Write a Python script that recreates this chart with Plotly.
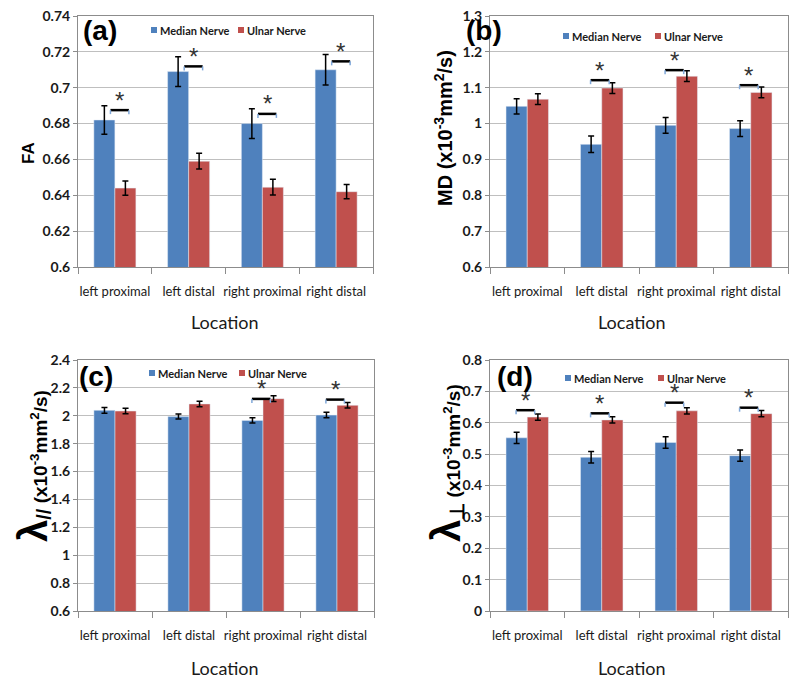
import plotly.graph_objects as go

categories = ["left proximal", "left distal", "right proximal", "right distal"]
series_names = ["Median Nerve", "Ulnar Nerve"]

# (a) FA
fa_median = [0.682, 0.709, 0.680, 0.710]
fa_median_err = [0.008, 0.0083, 0.0083, 0.0085]
fa_ulnar = [0.644, 0.659, 0.6445, 0.642]
fa_ulnar_err = [0.004, 0.0044, 0.0044, 0.004]
fa_sig_y = [0.6875, 0.7119, 0.6854, 0.7147]

# (b) MD
md_median = [1.048, 0.942, 0.995, 0.986]
md_median_err = [0.021, 0.023, 0.022, 0.022]
md_ulnar = [1.068, 1.099, 1.132, 1.087]
md_ulnar_err = [0.015, 0.015, 0.015, 0.015]
md_sig_y = [None, 1.121, 1.149, 1.107]

# (c) lambda parallel
lp_median = [2.039, 1.994, 1.967, 2.005]
lp_median_err = [0.02, 0.018, 0.018, 0.02]
lp_ulnar = [2.034, 2.085, 2.123, 2.075]
lp_ulnar_err = [0.02, 0.02, 0.02, 0.02]
lp_sig_y = [None, None, 2.121, 2.116]

# (d) lambda perpendicular
lt_median = [0.552, 0.490, 0.537, 0.495]
lt_median_err = [0.018, 0.018, 0.018, 0.018]
lt_ulnar = [0.618, 0.609, 0.638, 0.629]
lt_ulnar_err = [0.01, 0.01, 0.01, 0.01]
lt_sig_y = [0.640, 0.630, 0.664, 0.648]

y_ranges = [[0.6, 0.74], [0.6, 1.3], [0.6, 2.4], [0, 0.8]]
y_dticks = [0.02, 0.1, 0.2, 0.1]

BLUE = "#4F81BD"
RED = "#C0504D"
FONT = "Lato, sans-serif"
BOLDFONT = "Liberation Sans, Arial, sans-serif"

panels = [
    dict(med=fa_median, mede=fa_median_err, uln=fa_ulnar, ulne=fa_ulnar_err, sig=fa_sig_y,
         letter="(a)", dom_x=[78, 373], dom_y=[16, 267], br=(-0.06, 0.19)),
    dict(med=md_median, mede=md_median_err, uln=md_ulnar, ulne=md_ulnar_err, sig=md_sig_y,
         letter="(b)", dom_x=[490, 788], dom_y=[16, 267], br=(-0.15, 0.1)),
    dict(med=lp_median, mede=lp_median_err, uln=lp_ulnar, ulne=lp_ulnar_err, sig=lp_sig_y,
         letter="(c)", dom_x=[78, 374], dom_y=[360, 611], br=(-0.15, 0.1)),
    dict(med=lt_median, mede=lt_median_err, uln=lt_ulnar, ulne=lt_ulnar_err, sig=lt_sig_y,
         letter="(d)", dom_x=[490, 788], dom_y=[360, 611], br=(-0.15, 0.1)),
]

# page body has an 8px default margin: the figure is sized to fill the rest of the window
OFF = 8
W, H = 800 - OFF, 686 - OFF
xs = list(range(len(categories)))

fig = go.Figure()
layout = dict(width=W, height=H, margin=dict(l=0, r=0, t=0, b=0),
              paper_bgcolor="white", plot_bgcolor="white", showlegend=False,
              barmode="group", bargap=0.43, bargroupgap=0,
              font=dict(family=FONT, color="#1a1a1a"))
shapes = []
annotations = []

# legend swatch centres (window px): (blue x, red x, y)
legend_px = [(154, 241, 30), (566, 658, 36), (152, 242, 373), (568, 661, 378)]
letter_pos = [(100, 30), (484, 31), (96, 376), (515, 377)]
location_pos = [(225, 322), (632, 322), (225, 668), (632, 668)]
LAM = "<span style='font-size:40px'>λ</span>"
ytitle = [
    ("<b>FA</b>", 29, 153, 17),
    ("<b>MD (x10<sup>-3</sup>mm<sup>2</sup>/s)</b>", 443, 128, 20),
    ("<b>" + LAM + "<sub><span style='font-size:20px'>//</span></sub> (x10<sup>-3</sup>mm<sup>2</sup>/s)</b>", 33, 466, 19),
    ("<b>" + LAM + "<sub><span style='font-size:20px'>⊥</span></sub> (x10<sup>-3</sup>mm<sup>2</sup>/s)</b>", 446, 463, 19),
]


def px(x):
    return (x - OFF) / W


def py(y):
    return 1 - (y - OFF) / H


for i, p in enumerate(panels):
    k = "" if i == 0 else str(i + 1)
    xa, ya = "x" + k, "y" + k
    fig.add_trace(go.Bar(x=xs, y=p["med"], name=series_names[0], marker_color=BLUE,
                         error_y=dict(type="data", array=p["mede"], color="black", thickness=1.5, width=3),
                         xaxis=xa, yaxis=ya))
    fig.add_trace(go.Bar(x=xs, y=p["uln"], name=series_names[1], marker_color=RED,
                         error_y=dict(type="data", array=p["ulne"], color="black", thickness=1.5, width=3),
                         xaxis=xa, yaxis=ya))
    dx = [px(p["dom_x"][0]), px(p["dom_x"][1])]
    dy = [py(p["dom_y"][1]), py(p["dom_y"][0])]
    layout["xaxis" + k] = dict(domain=dx, anchor=ya, range=[-0.5, 3.5], automargin=False,
                               tickvals=xs, ticktext=categories, ticks="", tickangle=0,
                               ticklabelstandoff=12, ticklabeloverflow="allow",
                               tickfont=dict(size=13, color="#1a1a1a"),
                               showline=True, linecolor="#8C8C8C", linewidth=1, mirror=True,
                               showgrid=False, zeroline=False,
                               minor=dict(tickvals=[-0.5, 0.5, 1.5, 2.5, 3.5], ticks="outside",
                                          ticklen=6, tickcolor="#8C8C8C", showgrid=False))
    layout["yaxis" + k] = dict(domain=dy, anchor=xa, range=y_ranges[i], dtick=y_dticks[i],
                               automargin=False, ticklabeloverflow="allow",
                               tickfont=dict(size=14, color="#1a1a1a", weight="bold"),
                               ticks="outside", ticklen=4, tickcolor="#8C8C8C",
                               showline=True, linecolor="#8C8C8C", linewidth=1, mirror=True,
                               showgrid=True, gridcolor="#BFBFBF", gridwidth=1, zeroline=False)
    # legend (swatch + label) for this panel
    bx, rx, ly = legend_px[i]
    for sx, col, name in ((bx, BLUE, series_names[0]), (rx, RED, series_names[1])):
        shapes.append(dict(type="rect", xref="paper", yref="paper",
                           x0=px(sx - 3), x1=px(sx + 3), y0=py(ly + 3), y1=py(ly - 3),
                           fillcolor=col, line=dict(width=0)))
        annotations.append(dict(text=name, xref="paper", yref="paper", x=px(sx + 4), y=py(ly),
                                xanchor="left", yanchor="middle", showarrow=False,
                                font=dict(size=11, color="#1a1a1a", weight="bold")))
    # panel letter
    annotations.append(dict(text="<b>" + p["letter"] + "</b>", xref="paper", yref="paper",
                            x=px(letter_pos[i][0]), y=py(letter_pos[i][1]),
                            xanchor="center", yanchor="middle", showarrow=False,
                            font=dict(size=28, family=BOLDFONT, color="black")))
    # x title
    annotations.append(dict(text="Location", xref="paper", yref="paper",
                            x=px(location_pos[i][0]), y=py(location_pos[i][1]),
                            xanchor="center", yanchor="middle", showarrow=False,
                            font=dict(size=18, color="#1a1a1a")))
    # y title
    t, tx, ty, ts = ytitle[i]
    annotations.append(dict(text=t, xref="paper", yref="paper", x=px(tx), y=py(ty),
                            xanchor="center", yanchor="middle", showarrow=False, textangle=-90,
                            font=dict(size=ts, family=BOLDFONT, color="black")))
    # significance brackets
    x0o, x1o = p["br"]
    for c, yb in zip(xs, p["sig"]):
        if yb is None:
            continue
        shapes.append(dict(type="line", xref=xa, yref=ya, x0=c + x0o, x1=c + x1o, y0=yb, y1=yb,
                           line=dict(color="black", width=2.5)))
        for xe in (c + x0o, c + x1o):
            shapes.append(dict(type="line", xref=xa, yref=ya, ysizemode="pixel", yanchor=yb,
                               x0=xe, x1=xe, y0=0, y1=-4, line=dict(color="#7FA7D9", width=1.5)))
        annotations.append(dict(text="*", xref=xa, yref=ya, x=c + (x0o + x1o) / 2, y=yb,
                                yshift=10, xanchor="center", yanchor="middle", showarrow=False,
                                font=dict(size=24, color="#333333", family=BOLDFONT)))

layout["shapes"] = shapes
layout["annotations"] = annotations
fig.update_layout(**layout)
fig.write_html("out.html")
